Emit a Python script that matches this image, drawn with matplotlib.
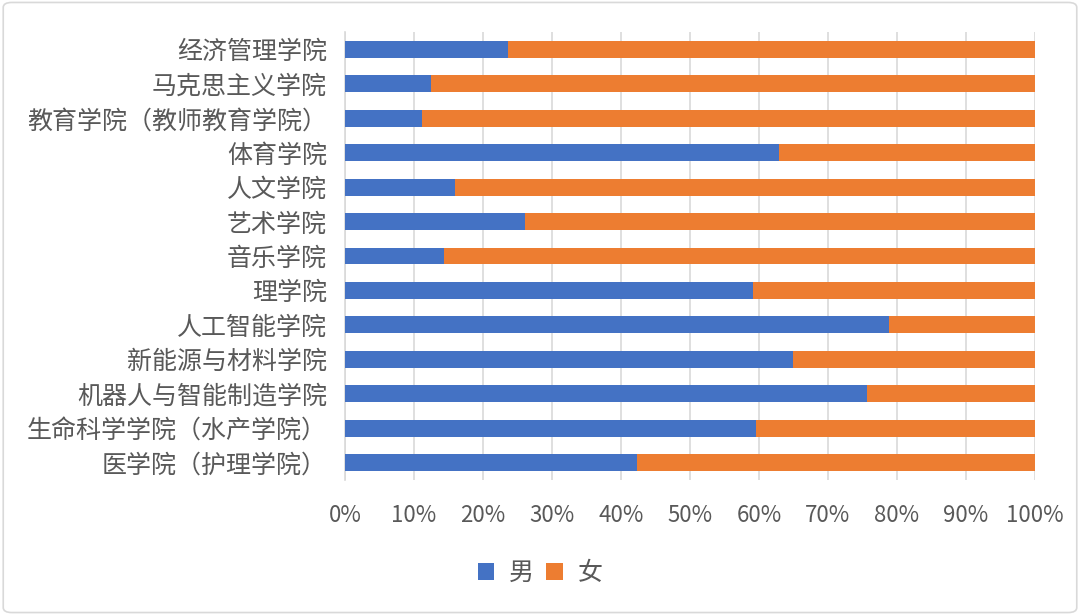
import matplotlib
matplotlib.use("Agg")
import matplotlib.pyplot as plt
from matplotlib.patches import FancyBboxPatch
import numpy as np

plt.rcParams['font.family'] = ['Noto Sans CJK SC', 'DejaVu Sans']

# data (top to bottom as shown)
colleges = ['经济管理学院', '马克思主义学院', '教育学院（教师教育学院）', '体育学院', '人文学院',
            '艺术学院', '音乐学院', '理学院', '人工智能学院', '新能源与材料学院',
            '机器人与智能制造学院', '生命科学学院（水产学院）', '医学院（护理学院）']
male_pct = [23.6, 12.5, 11.1, 62.9, 15.9, 26.1, 14.3, 59.1, 78.8, 64.9, 75.7, 59.6, 42.3]
female_pct = [100 - v for v in male_pct]

blue = '#4472C4'
orange = '#ED7D31'

fig = plt.figure(figsize=(10.8, 6.15), dpi=100)
ax = fig.add_axes([345 / 1080, 1 - 480 / 615, 690 / 1080, 448 / 615])

y = np.arange(len(colleges))
ax.barh(y, male_pct, height=0.49, color=blue, label='男', zorder=3)
ax.barh(y, female_pct, left=male_pct, height=0.49, color=orange, label='女', zorder=3)

ax.set_xlim(0, 100)
ax.set_ylim(len(colleges) - 0.5, -0.5)
ax.set_xticks(np.arange(0, 101, 10))
ax.set_xticklabels([f'{v}%' for v in range(0, 101, 10)])
ax.set_yticks(y)
ax.set_yticklabels(colleges)
ax.xaxis.grid(True, color='#d9d9d9', linewidth=1.2, zorder=0)
for s in ['top', 'right', 'bottom']:
    ax.spines[s].set_visible(False)
ax.spines['left'].set_color('#d9d9d9')
ax.spines['left'].set_linewidth(1.2)
ax.tick_params(axis='both', length=0, colors='#595959')
ax.tick_params(axis='x', pad=17, labelsize=16)
ax.tick_params(axis='y', pad=13, labelsize=18)

fig.legend(loc='center', bbox_to_anchor=(540 / 1080, 1 - 573 / 615), ncol=2, frameon=False,
           fontsize=18, handlelength=0.65, handleheight=0.65, handletextpad=0.6, columnspacing=0.5,
           labelcolor='#595959')

border = FancyBboxPatch((0.003, 0.004), 0.994, 0.992, boxstyle='round,pad=0,rounding_size=0.008',
                        transform=fig.transFigure, fill=False, edgecolor='#d9d9d9', linewidth=1.2)
fig.patches.append(border)

fig.savefig('out.png', dpi=100)
